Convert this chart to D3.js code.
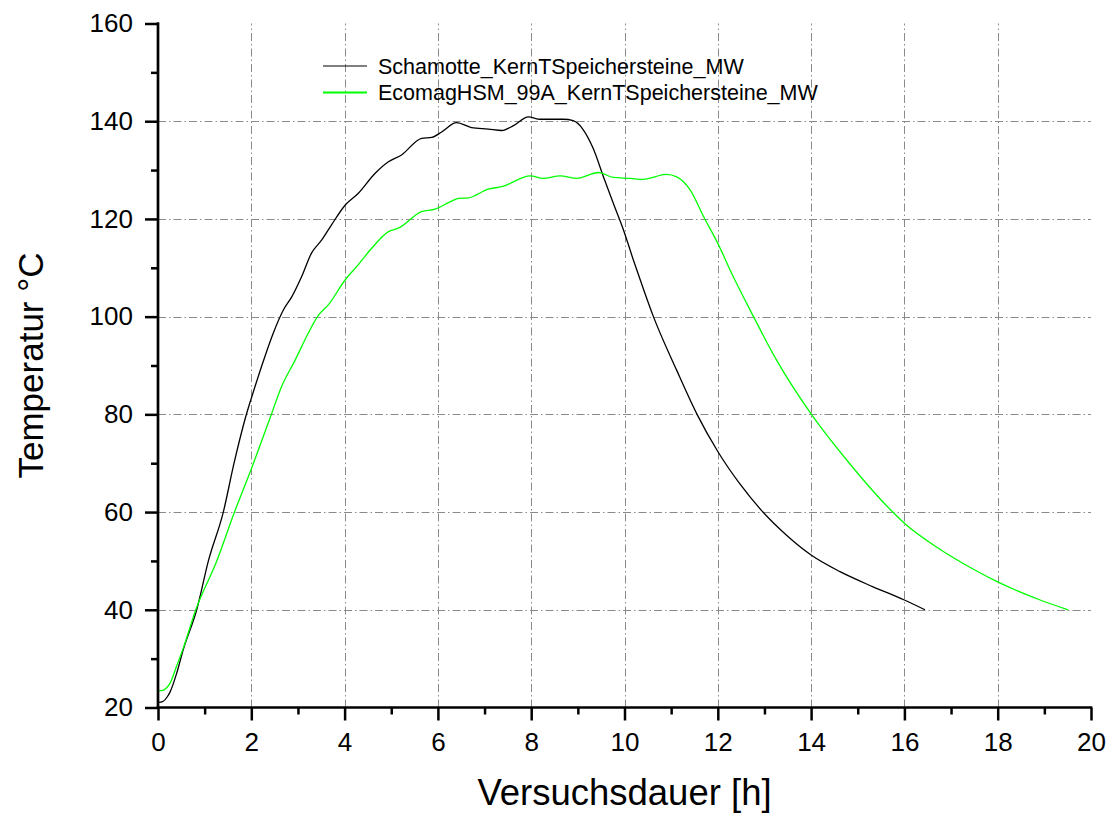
<!DOCTYPE html>
<html>
<head>
<meta charset="utf-8">
<script src="https://cdn.jsdelivr.net/npm/d3@7"></script>
<style>
  body { margin: 0; background: #fff; }
  svg text { font-family: Arial, 'Liberation Sans', sans-serif; fill: #000; }
</style>
</head>
<body>
<div class="chart"></div>
<script>
'use strict'

let width = 1112;
let height = 816;
const margin = {top: 23.5, right: 21, bottom: 108.5, left: 158};

/* Schamotte */
const schamotteHours = [0, 0.1, 0.2, 0.26, 0.4, 0.54, 0.83, 1.08, 1.4, 1.63, 1.88, 2.08, 2.29, 2.47, 2.69, 2.87,
  3.08, 3.29, 3.51, 3.72, 4.01, 4.29, 4.65, 4.94, 5.22, 5.65, 5.87, 6.08, 6.4, 6.72, 7.08, 7.37,
  7.62, 7.94, 8.19, 8.69, 8.9, 9.12, 9.33, 9.55, 9.76, 9.98, 10.19, 10.4, 10.62, 11.12, 11.55,
  12.0, 12.47, 12.93, 13.48, 14.0, 14.62, 15.33, 16.0, 16.44];
const schamotteTemps = [21, 21.2, 22.2, 23.2, 27, 31.8, 40, 50, 60, 70, 79.5, 85.7, 91.8, 96.6, 101.4, 104.1,
  108.2, 113, 115.7, 118.8, 122.8, 125.2, 129.3, 131.7, 133.1, 136.5, 136.7, 137.8, 139.7, 138.7, 138.4, 138.1,
  139.1, 140.9, 140.4, 140.4, 140.1, 138.2, 134.4, 128.6, 123.2, 117.7, 111.6, 105.8, 100, 89, 80.1,
  72.4, 65.8, 60.4, 55.2, 51.2, 47.8, 44.7, 42, 40];

/* EcomagHSM 99A */
const ecomagHours = [0, 0.1, 0.18, 0.26, 0.4, 0.54, 0.81, 1.26, 1.64, 2.0, 2.4, 2.65, 2.94, 3.22, 3.44, 3.65,
  4.01, 4.29, 4.58, 4.94, 5.15, 5.65, 5.94, 6.26, 6.44, 6.65, 7.08, 7.37, 7.98, 8.26, 8.62, 8.98,
  9.44, 9.76, 10.12, 10.4, 10.9, 11.12, 11.41, 11.7, 12.0, 12.33, 12.76, 13.26, 14.0, 14.82, 15.75,
  16.0, 16.76, 17.5, 18.0, 18.91, 19.51];
const ecomagTemps = [23.4, 23.5, 24, 25, 28.5, 32.1, 40, 50, 60, 68.8, 79.2, 85.7, 91.1, 96.6, 100.3, 102.4,
  107.5, 110.6, 114, 117.4, 118.1, 121.5, 122, 123.5, 124.2, 124.3, 126.1, 126.6, 128.8, 128.3, 128.8, 128.3,
  129.5, 128.5, 128.3, 128.1, 129.1, 128.6, 125.9, 120.4, 115, 108.2, 100.1, 91.1, 80.1, 70, 60,
  57.7, 52.4, 48.2, 45.7, 42, 40];

const seriesNames = ['Schamotte_KernTSpeichersteine_MW', 'EcomagHSM_99A_KernTSpeichersteine_MW'];
const seriesColors = ['#000000', '#00ff00'];

const xTicks = [0, 2, 4, 6, 8, 10, 12, 14, 16, 18, 20];
const xMinor = [1, 3, 5, 7, 9, 11, 13, 15, 17, 19];
const yTicks = [20, 40, 60, 80, 100, 120, 140, 160];
const yMinor = [30, 50, 70, 90, 110, 130, 150];

const xTitle = 'Versuchsdauer [h]';
const yTitle = 'Temperatur °C';

const series = [
  {name: seriesNames[0], color: seriesColors[0], data: schamotteHours.map((h, i) => [h, schamotteTemps[i]])},
  {name: seriesNames[1], color: seriesColors[1], data: ecomagHours.map((h, i) => [h, ecomagTemps[i]])}
];

const svg = d3.select('.chart')
  .append('svg')
  .attr('width', width)
  .attr('height', height);

svg.append('rect').attr('width', width).attr('height', height).attr('fill', '#fff');

const xScale = d3.scaleLinear().domain([0, 20]).range([margin.left, width - margin.right]);
const yScale = d3.scaleLinear().domain([20, 160]).range([height - margin.bottom, margin.top]);

/* GRID (dash-dot) */
const grid = svg.append('g')
  .attr('stroke', '#8a8a8a')
  .attr('stroke-width', 1)
  .attr('stroke-dasharray', '8,3,1.5,3');

grid.selectAll('.vgrid')
  .data(xTicks.filter(d => d > 0 && d < 20))
  .enter().append('line')
  .attr('x1', d => Math.round(xScale(d)) + 0.5)
  .attr('x2', d => Math.round(xScale(d)) + 0.5)
  .attr('y1', yScale(20))
  .attr('y2', yScale(160));

grid.selectAll('.hgrid')
  .data(yTicks.filter(d => d > 20 && d < 160))
  .enter().append('line')
  .attr('y1', d => Math.round(yScale(d)) + 0.5)
  .attr('y2', d => Math.round(yScale(d)) + 0.5)
  .attr('x1', xScale(0))
  .attr('x2', xScale(20));

/* LINES */
const line = d3.line()
  .x(d => xScale(d[0]))
  .y(d => yScale(d[1]))
  .curve(d3.curveMonotoneX);

svg.selectAll('.series')
  .data(series)
  .enter().append('path')
  .attr('fill', 'none')
  .attr('stroke', d => d.color)
  .attr('stroke-width', 1.3)
  .attr('d', d => line(d.data));

/* AXES */
const xAxis = d3.axisBottom(xScale).tickValues(xTicks).tickSize(13).tickPadding(12).tickFormat(d3.format('d'));
const xAxisMinor = d3.axisBottom(xScale).tickValues(xMinor).tickSize(7).tickFormat('');
const yAxis = d3.axisLeft(yScale).tickValues(yTicks).tickSize(13).tickPadding(12).tickFormat(d3.format('d'));
const yAxisMinor = d3.axisLeft(yScale).tickValues(yMinor).tickSize(7).tickFormat('');

function styleAxis (g) {
  g.select('.domain').remove();
  g.selectAll('line').attr('stroke', '#000').attr('stroke-width', 2.5);
  g.selectAll('text').style('font-size', '26px').attr('fill', '#000');
}

svg.append('g').attr('transform', 'translate(0,' + yScale(20) + ')').call(xAxis).call(styleAxis);
svg.append('g').attr('transform', 'translate(0,' + yScale(20) + ')').call(xAxisMinor).call(styleAxis);
svg.append('g').attr('transform', 'translate(' + xScale(0) + ',0)').call(yAxis).call(styleAxis);
svg.append('g').attr('transform', 'translate(' + xScale(0) + ',0)').call(yAxisMinor).call(styleAxis);

/* axis lines */
svg.append('line')
  .attr('x1', xScale(0) - 1.3).attr('x2', xScale(20) + 1.3)
  .attr('y1', yScale(20)).attr('y2', yScale(20))
  .attr('stroke', '#000').attr('stroke-width', 2.7);
svg.append('line')
  .attr('x1', xScale(0)).attr('x2', xScale(0))
  .attr('y1', yScale(20) + 1.3).attr('y2', yScale(160) - 1.3)
  .attr('stroke', '#000').attr('stroke-width', 2.7);

/* TITLES */
svg.append('text')
  .attr('x', (xScale(0) + xScale(20)) / 2)
  .attr('y', 805)
  .attr('text-anchor', 'middle')
  .style('font-size', '36.5px')
  .text(xTitle);

svg.append('text')
  .attr('transform', 'translate(43,' + (yScale(20) + yScale(160)) / 2 + ') rotate(-90)')
  .attr('text-anchor', 'middle')
  .style('font-size', '35px')
  .text(yTitle);

/* LEGEND */
const legend = svg.append('g').attr('transform', 'translate(323,66)');
series.forEach((s, i) => {
  legend.append('line')
    .attr('x1', 0).attr('x2', 44)
    .attr('y1', i * 26.5).attr('y2', i * 26.5)
    .attr('stroke', s.color)
    .attr('stroke-width', i === 0 ? 1.2 : 2);
  legend.append('text')
    .attr('x', 55)
    .attr('y', i * 26.5)
    .attr('dy', '0.35em')
    .style('font-size', '21.5px')
    .text(s.name);
});
</script>
</body>
</html>
